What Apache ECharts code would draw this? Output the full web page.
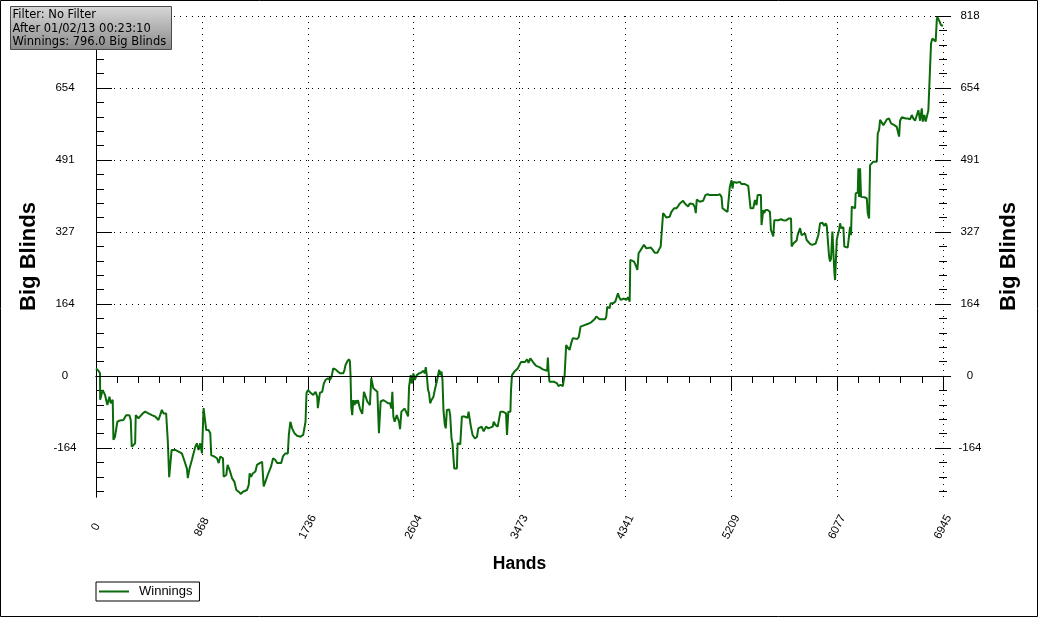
<!DOCTYPE html>
<html>
<head>
<meta charset="utf-8">
<script src="https://cdn.jsdelivr.net/npm/echarts@6/dist/echarts.min.js"></script>
<style>
html,body{margin:0;padding:0;background:#fff;}
#chart{width:1038px;height:617px;}
</style>
</head>
<body>
<div id="chart"></div>
<script>
// ---- data ----
const hands = [0,20,33,34,55,74,93,110,121,137,143,156,175,197,225,247,274,285,293,321,326,348,362,384,403,430,444,458,485,512,526,540,553,575,589,600,610,620,649,677,704,718,745,753,767,786,814,827,841,855,869,882,896,904,923,937,945,964,978,992,1006,1019,1041,1047,1068,1079,1096,1107,1115,1134,1151,1170,1189,1205,1219,1238,1252,1260,1271,1287,1307,1320,1342,1362,1375,1389,1403,1408,1424,1435,1452,1471,1485,1499,1518,1534,1553,1573,1581,1594,1608,1627,1649,1677,1699,1718,1726,1737,1759,1781,1800,1814,1819,1836,1855,1868,1882,1901,1918,1923,1931,1945,1964,1983,2000,2011,2027,2038,2046,2060,2074,2082,2087,2093,2101,2109,2120,2129,2137,2148,2164,2175,2183,2197,2211,2224,2238,2246,2257,2274,2287,2307,2320,2334,2356,2375,2394,2411,2422,2430,2438,2449,2466,2485,2493,2504,2520,2531,2548,2559,2567,2581,2589,2603,2614,2630,2649,2668,2685,2696,2704,2712,2723,2731,2740,2750,2767,2778,2794,2805,2814,2822,2833,2841,2849,2860,2868,2877,2896,2904,2915,2923,2937,2945,2959,2965,2987,3000,3020,3033,3047,3055,3069,3074,3088,3107,3124,3135,3151,3162,3179,3198,3217,3233,3253,3261,3274,3294,3307,3316,3335,3348,3362,3370,3381,3398,3403,3411,3431,3444,3458,3472,3485,3499,3518,3535,3546,3562,3576,3590,3609,3622,3636,3650,3664,3677,3699,3705,3710,3718,3732,3754,3765,3781,3792,3809,3820,3828,3836,3842,3850,3855,3869,3883,3896,3910,3924,3946,3959,3973,4000,4030,4060,4088,4102,4115,4129,4175,4184,4192,4203,4211,4219,4230,4239,4247,4258,4266,4280,4288,4302,4312,4329,4348,4362,4376,4381,4395,4411,4425,4439,4444,4449,4466,4477,4493,4504,4513,4526,4548,4559,4567,4581,4603,4614,4630,4644,4650,4663,4677,4691,4704,4718,4740,4759,4773,4787,4800,4814,4828,4841,4855,4869,4882,4896,4910,4918,4926,4937,4950,4964,4978,4992,4997,5014,5033,5052,5074,5096,5115,5129,5137,5156,5178,5189,5197,5211,5219,5227,5238,5252,5266,5279,5293,5307,5320,5334,5348,5362,5367,5381,5389,5403,5416,5425,5438,5452,5457,5471,5479,5490,5507,5526,5534,5545,5553,5562,5572,5594,5616,5636,5655,5671,5682,5699,5704,5718,5731,5745,5753,5764,5773,5786,5800,5814,5827,5841,5855,5874,5890,5901,5910,5923,5937,5951,5956,5973,5983,5992,6005,6011,6019,6027,6033,6038,6046,6055,6060,6068,6074,6082,6093,6101,6109,6120,6128,6136,6147,6164,6175,6183,6191,6197,6210,6224,6229,6246,6251,6257,6265,6273,6284,6300,6320,6328,6339,6347,6361,6374,6388,6402,6410,6421,6429,6443,6456,6470,6484,6503,6519,6530,6546,6566,6579,6585,6593,6607,6620,6639,6656,6675,6689,6702,6716,6730,6743,6757,6771,6779,6792,6803,6812,6825,6839,6847,6858,6874,6885,6894,6899,6907,6921,6929,6945];
const winnings = [17,12,6,-54,-32,-43,-66,-47,-62,-54,-145,-138,-104,-101,-100,-89,-89,-100,-161,-153,-89,-96,-100,-85,-81,-85,-81,-89,-92,-100,-89,-77,-85,-85,-149,-230,-228,-168,-168,-172,-176,-187,-210,-232,-210,-191,-161,-153,-168,-153,-176,-73,-73,-123,-123,-130,-180,-182,-185,-187,-198,-183,-187,-229,-225,-202,-214,-217,-232,-240,-259,-263,-268,-263,-267,-259,-248,-221,-229,-221,-217,-202,-198,-195,-251,-240,-244,-225,-221,-206,-187,-191,-198,-195,-198,-182,-176,-176,-134,-104,-119,-130,-136,-138,-134,-104,-39,-32,-38,-43,-36,-47,-73,-38,-36,-17,-9,-5,-9,-13,-2,17,15,10,6,10,6,14,25,33,38,33,2,-70,-89,-55,-66,-55,-62,-55,-74,-77,-86,-36,-47,-58,-58,-66,-5,-28,-32,-36,-130,-58,-55,-58,-62,-62,-74,-36,-92,-104,-89,-104,-121,-81,-77,-74,-85,-92,-24,2,-17,6,-9,2,6,8,12,6,20,2,-32,-39,-62,-55,-47,-32,-13,-9,14,2,10,-9,-77,-111,-119,-77,-76,-89,-142,-153,-210,-212,-210,-153,-155,-92,-92,-89,-95,-81,-81,-115,-134,-142,-138,-119,-123,-115,-126,-115,-119,-123,-115,-104,-111,-115,-114,-81,-81,-77,-85,-134,-81,-81,-32,2,10,8,17,21,32,35,32,38,30,40,36,29,23,25,20,20,15,14,12,42,14,-13,-15,-13,-9,-17,-23,-20,-24,-23,-8,-1,2,70,66,59,74,86,82,84,89,112,115,118,122,129,135,131,129,129,135,157,161,154,165,161,165,167,169,176,188,180,173,174,176,173,179,169,264,265,260,252,241,237,279,286,290,298,301,290,292,292,294,286,280,280,286,294,295,370,370,360,358,362,373,381,381,386,392,392,398,392,396,385,392,394,391,383,370,401,404,396,394,398,396,411,413,411,411,411,411,413,407,381,377,373,373,430,445,426,441,438,439,438,441,436,434,436,434,432,434,381,385,381,400,388,411,413,411,343,377,370,377,377,373,332,324,317,354,356,354,356,354,353,356,358,358,294,301,303,308,320,324,336,320,317,324,309,305,300,298,300,301,309,320,347,347,348,341,347,341,341,271,260,267,301,328,324,233,218,222,309,320,332,347,336,339,338,294,290,292,288,339,320,385,383,381,415,417,472,407,472,407,411,406,404,370,358,479,479,487,491,487,551,559,582,578,570,568,583,585,574,572,570,566,568,544,580,588,591,585,585,583,593,585,580,583,604,580,608,578,593,578,580,604,604,756,767,765,760,809,816,813,803,797,796];

const xMin = 0, xMax = 6945, xInterval = 868.125;
const yMin = -275, yMax = 818;
const yMajorTicks = [-163.6, 0, 163.6, 327.2, 490.8, 654.4, 818];
const yLeftLabels = [-163.6, 0, 163.6, 327.2, 490.8, 654.4];
const yMinorTicks = [-261.76, -229.04, -196.32, -130.88, -98.16, -65.44, -32.72, 32.72, 65.44, 98.16, 130.88, 196.32, 229.04, 261.76, 294.48, 359.92, 392.64, 425.36, 458.08, 523.52, 556.24, 588.96, 621.68, 687.12, 719.84, 752.56, 785.28];
const infoLines = ['Filter: No Filter', 'After 01/02/13 00:23:10', 'Winnings: 796.0 Big Blinds'];
const seriesName = 'Winnings';
const xName = 'Hands';
const yName = 'Big Blinds';

// ---- chart ----
const FONT = 'Liberation Sans';
const LINE_COLOR = '#0b6b0b';
const DOT = [1, 5];
const seriesData = hands.map((h, i) => [h, winnings[i]]);
const round = v => String(Math.round(v));

const baseX = { type: 'value', min: xMin, max: xMax, interval: xInterval, gridIndex: 0 };
const baseY = { type: 'value', min: yMin, max: yMax, gridIndex: 0, splitLine: { show: false } };
const noLabel = { show: false };
const blackLine = { color: '#000', width: 1 };

const chart = echarts.init(document.getElementById('chart'), null, { renderer: 'canvas' });
chart.setOption({
  animation: false,
  backgroundColor: '#fff',
  grid: { left: 96, right: 95, top: 16, bottom: 120, containLabel: false },
  xAxis: [
    Object.assign({}, baseX, {
      position: 'bottom',
      axisLine: { show: true, lineStyle: blackLine },
      axisTick: { show: false },
      axisLabel: { show: true, rotate: 63, align: 'center', verticalAlign: 'middle', margin: 30,
        color: '#000', fontFamily: FONT, fontSize: 11.5, formatter: round },
      splitLine: { show: true, lineStyle: { color: '#000', width: 1, type: DOT } },
      name: xName, nameLocation: 'middle', nameGap: 58,
      nameTextStyle: { color: '#000', fontFamily: FONT, fontSize: 17.5, fontWeight: 'bold' }
    }),
    Object.assign({}, baseX, {
      position: 'bottom', offset: -7,
      axisLine: { show: false },
      axisTick: { show: true, inside: false, length: 15, lineStyle: blackLine },
      axisLabel: noLabel, splitLine: { show: false }
    }),
    Object.assign({}, baseX, {
      position: 'bottom', offset: -3.5,
      axisLine: { show: false },
      axisTick: { show: false },
      minorTick: { show: true, splitNumber: 5, length: 7, lineStyle: blackLine },
      axisLabel: noLabel, splitLine: { show: false }
    }),
    Object.assign({}, baseX, {
      position: 'top',
      axisLine: { show: true, lineStyle: blackLine },
      axisTick: { show: true, inside: true, length: 9, lineStyle: blackLine },
      minorTick: { show: true, splitNumber: 5, length: 5, lineStyle: blackLine },
      axisLabel: noLabel, splitLine: { show: false }
    })
  ],
  yAxis: [
    Object.assign({}, baseY, {
      position: 'left',
      axisLine: { show: true, lineStyle: blackLine },
      axisTick: { show: false },
      axisLabel: { show: true, customValues: yLeftLabels, formatter: round, align: 'center', margin: 31,
        color: '#000', fontFamily: FONT, fontSize: 11.5 },
      name: yName, nameLocation: 'middle', nameRotate: 90, nameGap: 56,
      nameTextStyle: { color: '#000', fontFamily: FONT, fontSize: 22, fontWeight: 'bold' }
    }),
    Object.assign({}, baseY, {
      position: 'left', offset: 8,
      axisLine: { show: false },
      axisTick: { show: true, inside: true, length: 16, customValues: yMajorTicks, lineStyle: blackLine },
      axisLabel: noLabel
    }),
    Object.assign({}, baseY, {
      position: 'left', offset: 4,
      axisLine: { show: false },
      axisTick: { show: true, inside: true, length: 8, customValues: yMinorTicks, lineStyle: blackLine },
      axisLabel: noLabel
    }),
    Object.assign({}, baseY, {
      position: 'right',
      axisLine: { show: true, lineStyle: blackLine },
      axisTick: { show: false },
      axisLabel: { show: true, customValues: yMajorTicks, formatter: round, align: 'center', margin: 27,
        color: '#000', fontFamily: FONT, fontSize: 11.5 },
      name: yName, nameLocation: 'middle', nameRotate: 90, nameGap: 55,
      nameTextStyle: { color: '#000', fontFamily: FONT, fontSize: 22, fontWeight: 'bold' }
    }),
    Object.assign({}, baseY, {
      position: 'right', offset: 8,
      axisLine: { show: false },
      axisTick: { show: true, inside: true, length: 16, customValues: yMajorTicks, lineStyle: blackLine },
      axisLabel: noLabel
    }),
    Object.assign({}, baseY, {
      position: 'right', offset: 4,
      axisLine: { show: false },
      axisTick: { show: true, inside: true, length: 8, customValues: yMinorTicks, lineStyle: blackLine },
      axisLabel: noLabel
    })
  ],
  legend: {
    show: true, data: [seriesName], left: 96, top: 582, orient: 'horizontal',
    icon: 'rect', padding: [3, 7, 3, 3], itemWidth: 30, itemHeight: 2, itemGap: 5,
    borderColor: '#000', borderWidth: 1, borderRadius: 0, backgroundColor: '#fff',
    textStyle: { color: '#000', fontFamily: FONT, fontSize: 13, padding: [0, 0, 0, 5] }
  },
  series: [{
    type: 'line', name: seriesName, xAxisIndex: 0, yAxisIndex: 0,
    data: seriesData, showSymbol: false, symbol: 'none', clip: true,
    lineStyle: { color: LINE_COLOR, width: 2 }, itemStyle: { color: LINE_COLOR },
    markLine: {
      silent: true, symbol: ['none', 'none'], label: { show: false }, animation: false,
      data: yMajorTicks.map(v => ({
        yAxis: v,
        lineStyle: v === 0 ? { color: '#000', type: 'solid', width: 1 } : { color: '#000', type: DOT, width: 1 }
      }))
    }
  }],
  graphic: [
    { type: 'rect', silent: true, z: 50, shape: { x: 0.5, y: 0.5, width: 1037, height: 616 },
      style: { fill: 'none', stroke: '#000', lineWidth: 1 } },
    { type: 'group', x: 10.5, y: 6.5, z: 100, silent: true, children: [
      { type: 'rect', z: 100, shape: { x: 0, y: 0, width: 161, height: 43 },
        style: { fill: new echarts.graphic.LinearGradient(0, 0, 0, 1, [
          { offset: 0, color: '#d8d8d8' }, { offset: 1, color: '#8a8a8a' }]),
          stroke: '#4a4a4a', lineWidth: 1 } }
    ].concat(infoLines.map((t, i) => ({
      type: 'text', z: 101, x: 2, y: 3 + i * 13.4,
      style: { text: t, fill: '#000', font: '11.5px "DejaVu Sans"', align: 'left', verticalAlign: 'top' }
    }))) }
  ]
});
</script>
</body>
</html>
